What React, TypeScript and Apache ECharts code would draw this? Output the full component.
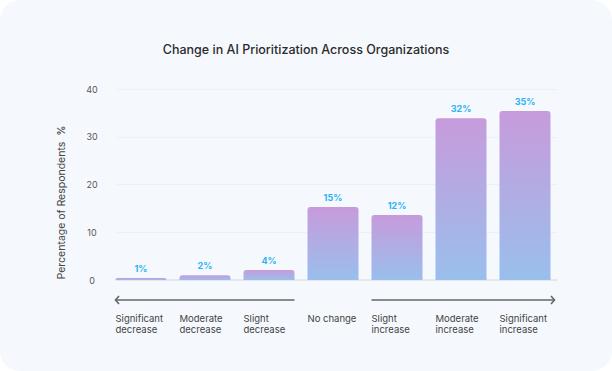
import React, { useEffect, useRef } from "react";
import * as echarts from "echarts";

const categories = [
  "Significant\ndecrease",
  "Moderate\ndecrease",
  "Slight\ndecrease",
  "No change",
  "Slight\nincrease",
  "Moderate\nincrease",
  "Significant\nincrease",
];
const barValues = [0.4, 1.0, 2.1, 15.3, 13.6, 33.9, 35.4];
const barLabels = ["1%", "2%", "4%", "15%", "12%", "32%", "35%"];
const yTicks = { min: 0, max: 40, interval: 10 };

const FONT = "Inter, 'Open Sans', sans-serif";

export default function App() {
  const ref = useRef<HTMLDivElement>(null);
  useEffect(() => {
    document.body.style.margin = "0";
    const chart = echarts.init(ref.current!, null, { renderer: "svg" });
    const BAR_W = 51;
    chart.setOption({
      animation: false,
      backgroundColor: "transparent",
      textStyle: { fontFamily: FONT },
      title: {
        text: "Change in AI Prioritization Across Organizations",
        left: "center",
        top: 38,
        textStyle: { fontSize: 12.5, fontWeight: 500, color: "#2b2b2b", fontFamily: FONT },
      },
      grid: [
        { left: 116, right: 55, top: 89, bottom: 91 },
        { left: 109, right: 55, top: 89, bottom: 91 },
      ],
      xAxis: [
        {
          type: "category",
          gridIndex: 0,
          data: categories,
          axisLine: { show: true, lineStyle: { color: "#dfe4ea", width: 1.5 } },
          axisTick: { show: false },
          axisLabel: { show: false },
        },
        {
          type: "category",
          gridIndex: 1,
          data: categories,
          axisLine: { show: false },
          axisTick: { show: false },
          axisLabel: {
            interval: 0,
            margin: 33,
            align: "center",
            formatter: (v: string) =>
              v.split("\n").map((s) => `{a|${s}}`).join("\n"),
            rich: {
              a: {
                width: BAR_W,
                align: "left",
                fontSize: 9.5,
                lineHeight: 11,
                color: "#444",
                fontFamily: FONT,
              },
            },
          },
        },
      ],
      yAxis: [
        {
          type: "value",
          gridIndex: 0,
          ...yTicks,
          name: "Percentage of Respondents  %",
          nameLocation: "middle",
          nameRotate: 90,
          nameGap: 49,
          nameTextStyle: { fontSize: 10.5, color: "#444", padding: [0, 36, 0, 0], fontFamily: FONT },
          axisLine: { show: false },
          axisTick: { show: false },
          axisLabel: { margin: 24, align: "center", fontSize: 9, color: "#555", fontFamily: FONT },
          splitLine: { lineStyle: { color: "#edf1f5", width: 1.2 } },
        },
        {
          type: "value",
          gridIndex: 1,
          ...yTicks,
          show: false,
          splitLine: { show: false },
        },
      ],
      series: [
        {
          type: "bar",
          xAxisIndex: 1,
          yAxisIndex: 1,
          data: barValues,
          barWidth: BAR_W,
          itemStyle: {
            borderRadius: [3, 3, 0, 0],
            color: new echarts.graphic.LinearGradient(0, 0, 0, 1, [
              { offset: 0, color: "#c79bdb" },
              { offset: 1, color: "#99bfec" },
            ]),
          },
          label: {
            show: true,
            position: "top",
            distance: 5,
            formatter: (p: any) => barLabels[p.dataIndex],
            color: "#2bb3f5",
            fontSize: 9,
            fontWeight: "bold",
            fontFamily: FONT,
          },
        },
      ],
    });

    const cx = (i: number) => chart.convertToPixel({ xAxisIndex: 1 }, categories[i]) as number;
    const y0 = chart.convertToPixel({ yAxisIndex: 1 }, 0) as number;
    const ay = y0 + 20;
    const h = BAR_W / 2;
    const lx1 = cx(0) - h;
    const lx2 = cx(2) + h;
    const rx1 = cx(4) - h;
    const rx2 = cx(6) + h + 4;
    const lineStyle = { stroke: "#666", lineWidth: 1.6, fill: null };
    chart.setOption({
      graphic: [
        { type: "line", shape: { x1: lx1, y1: ay, x2: lx2, y2: ay }, style: lineStyle, silent: true },
        {
          type: "polyline",
          shape: { points: [[lx1 + 3.5, ay - 4], [lx1, ay], [lx1 + 3.5, ay + 4]] },
          style: lineStyle,
          silent: true,
        },
        { type: "line", shape: { x1: rx1, y1: ay, x2: rx2, y2: ay }, style: lineStyle, silent: true },
        {
          type: "polyline",
          shape: { points: [[rx2 - 3.5, ay - 4], [rx2, ay], [rx2 - 3.5, ay + 4]] },
          style: lineStyle,
          silent: true,
        },
      ],
    });
    return () => chart.dispose();
  }, []);
  return (
    <div style={{ width: 612, height: 371, background: "#fff" }}>
      <div
        ref={ref}
        style={{ width: 612, height: 371, background: "#f5f9fe", borderRadius: 20 }}
      />
    </div>
  );
}
